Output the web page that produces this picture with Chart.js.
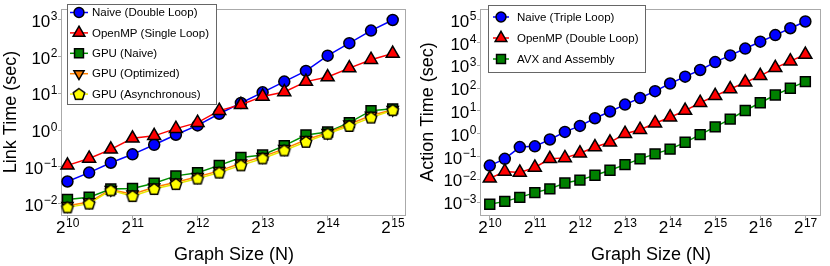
<!DOCTYPE html>
<html>
<head>
<meta charset="utf-8">
<script src="https://cdn.jsdelivr.net/npm/chart.js@4.4.0/dist/chart.umd.min.js"></script>
<style>
  body { margin: 0; background: #fff; }
  .panel { position: absolute; top: 0; width: 415px; height: 266px; }
</style>
</head>
<body>
<div class="panel" style="left:0"><canvas id="linkChart" width="415" height="266"></canvas></div>
<div class="panel" style="left:415px"><canvas id="actionChart" width="415" height="266"></canvas></div>
<script>
'use strict';

//////////////// left panel data (link time) ///////////////////

const linkSizes = [1024, 1290, 1625, 2048, 2580, 3251, 4096, 5161, 6502, 8192, 10321, 13004, 16384, 20643, 26008, 32768];
const linkNaive = [0.04, 0.07, 0.13, 0.22, 0.4, 0.75, 1.35, 2.8, 5.5, 10.7, 21, 41, 107, 234, 515, 1000];
const linkOpenMP = [0.11, 0.17, 0.3, 0.6, 0.7, 1.1, 1.6, 3.4, 4.9, 8.3, 11, 21, 28, 49, 83, 122];
const linkGpuNaive = [0.013, 0.015, 0.025, 0.026, 0.036, 0.057, 0.069, 0.11, 0.18, 0.21, 0.38, 0.74, 0.89, 1.6, 3.4, 3.8];
const linkGpuOpt = [0.0088, 0.011, 0.024, 0.018, 0.028, 0.038, 0.054, 0.078, 0.125, 0.19, 0.31, 0.55, 0.85, 1.45, 2.5, 3.6];
const linkGpuAsync = [0.0079, 0.01, 0.023, 0.016, 0.025, 0.034, 0.048, 0.07, 0.11, 0.17, 0.28, 0.48, 0.8, 1.3, 2.2, 3.5];

const linkXTicks = [1024, 2048, 4096, 8192, 16384, 32768];
const linkXLabels = ['2^10', '2^11', '2^12', '2^13', '2^14', '2^15'];
const linkYTicks = [0.01, 0.1, 1, 10, 100, 1000];
const linkYLabels = ['10^−2', '10^−1', '10^0', '10^1', '10^2', '10^3'];

//////////////// right panel data (action time) ///////////////////

const actionSizes = [1024, 1290, 1625, 2048, 2580, 3251, 4096, 5161, 6502, 8192, 10321, 13004, 16384, 20643, 26008, 32768, 41285, 52016, 65536, 82570, 104032, 131072];
const actionNaive = [0.04, 0.079, 0.26, 0.28, 0.56, 1.2, 2.2, 4.8, 9.5, 19, 37, 74, 160, 320, 630, 1400, 2750, 5500, 11000, 21500, 43000, 85000];
const actionOpenMP = [0.011, 0.022, 0.02, 0.033, 0.079, 0.087, 0.14, 0.26, 0.42, 1.0, 1.5, 2.9, 5.3, 10.4, 23, 46, 92, 180, 350, 780, 1540, 3000];
const actionAvx = [0.0008, 0.00107, 0.0016, 0.0026, 0.0038, 0.0069, 0.0092, 0.015, 0.025, 0.044, 0.079, 0.13, 0.21, 0.42, 0.91, 2.0, 4.4, 10.5, 23, 50, 100, 195];

const actionXTicks = [1024, 2048, 4096, 8192, 16384, 32768, 65536, 131072];
const actionXLabels = ['2^10', '2^11', '2^12', '2^13', '2^14', '2^15', '2^16', '2^17'];
const actionYTicks = [0.001, 0.01, 0.1, 1, 10, 100, 1000, 10000, 100000];
const actionYLabels = ['10^−3', '10^−2', '10^−1', '10^0', '10^1', '10^2', '10^3', '10^4', '10^5'];

//////////////// marker styles ///////////////////

// pentagon marker, chart.js has no such point style
function pentagon(r, fill) {
  const c = document.createElement('canvas');
  const s = Math.ceil(2 * r + 4);
  c.width = c.height = s;
  const g = c.getContext('2d');
  g.beginPath();
  for (let k = 0; k < 5; k++) {
    const a = -Math.PI / 2 + k * 2 * Math.PI / 5;
    const px = s / 2 + r * Math.cos(a);
    const py = s / 2 + 0.5 + r * Math.sin(a);
    if (k === 0) g.moveTo(px, py); else g.lineTo(px, py);
  }
  g.closePath();
  g.fillStyle = fill;
  g.fill();
  g.lineWidth = 1.5;
  g.strokeStyle = '#000';
  g.stroke();
  return c;
}

const styles = {
  blue: { line: '#0000ff', fill: '#0000ff', marker: 'circle', radius: 5.5 },
  red: { line: '#ff0000', fill: '#ff0000', marker: 'triangle', radius: 7.5 },
  green: { line: '#009000', fill: '#008000', marker: 'rect', radius: 7 },
  orange: { line: '#ff8000', fill: '#ff8000', marker: 'triangle', radius: 6.5, rotation: 180 },
  yellow: { line: '#e8e800', fill: '#ffff00', marker: pentagon(6, '#ffff00'), radius: 6 }
};

//////////////// plugins ///////////////////

const FONT = '"Liberation Sans", Arial, sans-serif';

const frame = {
  id: 'frame',
  beforeDatasetsDraw(chart) {
    const { ctx, chartArea: a } = chart;
    ctx.save();
    ctx.strokeStyle = '#aaaaaa';
    ctx.lineWidth = 1;
    ctx.strokeRect(Math.round(a.left) - 0.5, Math.round(a.top) + 0.5, Math.round(a.right - a.left), Math.round(a.bottom - a.top));
    ctx.restore();
  }
};

// tick labels like 10^3 drawn with a real raised exponent
function drawPower(ctx, label, x, baseline, align) {
  const parts = label.split('^');
  ctx.font = '17px ' + FONT;
  const bw = ctx.measureText(parts[0]).width;
  ctx.font = '12px ' + FONT;
  const ew = ctx.measureText(parts[1]).width;
  const left = align === 'center' ? x - (bw + ew) / 2 : x - bw - ew;
  ctx.font = '17px ' + FONT;
  ctx.fillText(parts[0], left, baseline);
  ctx.font = '12px ' + FONT;
  ctx.fillText(parts[1], left + bw + 0.5, baseline - 6.5);
}

const powerTicks = {
  id: 'powerTicks',
  afterDraw(chart, args, o) {
    const { ctx, chartArea: a, scales } = chart;
    ctx.save();
    ctx.fillStyle = '#000';
    ctx.textAlign = 'left';
    ctx.textBaseline = 'alphabetic';
    o.xTicks.forEach((v, i) => drawPower(ctx, o.xLabels[i], scales.x.getPixelForValue(v), a.bottom + 18, 'center'));
    o.yTicks.forEach((v, i) => drawPower(ctx, o.yLabels[i], a.left - 5, scales.y.getPixelForValue(v) + 7, 'right'));
    ctx.restore();
  }
};

const boxLegend = {
  id: 'boxLegend',
  afterDatasetsDraw(chart, args, o) {
    const ctx = chart.ctx;
    ctx.save();
    ctx.fillStyle = '#fff';
    ctx.fillRect(o.left, o.top, o.width, o.height);
    ctx.strokeStyle = '#666';
    ctx.lineWidth = 1;
    ctx.strokeRect(o.left + 0.5, o.top + 0.5, o.width, o.height);
    ctx.font = '11.5px ' + FONT;
    ctx.textBaseline = 'middle';
    chart.data.datasets.forEach((ds, i) => {
      const y = o.top + o.firstRow + i * o.rowGap;
      ctx.strokeStyle = ds.borderColor;
      ctx.lineWidth = ds.borderWidth;
      ctx.beginPath();
      ctx.moveTo(o.lineFrom, y);
      ctx.lineTo(o.lineTo, y);
      ctx.stroke();
      ctx.fillStyle = ds.pointBackgroundColor;
      ctx.strokeStyle = ds.pointBorderColor;
      ctx.lineWidth = ds.pointBorderWidth;
      Chart.helpers.drawPoint(ctx, {
        pointStyle: ds.pointStyle,
        radius: ds.pointRadius * 0.9,
        rotation: ds.pointRotation,
        borderWidth: ds.pointBorderWidth
      }, (o.lineFrom + o.lineTo) / 2, y);
      ctx.fillStyle = '#000';
      ctx.fillText(ds.label, o.textX, y + 0.5);
    });
    ctx.restore();
  }
};

//////////////// chart builder ///////////////////

const titleFont = { family: FONT, size: 18 };

function buildChart(id, cfg) {
  const n = cfg.series.length;
  return new Chart(document.getElementById(id), {
    type: 'line',
    data: {
      datasets: cfg.series.map((s, i) => ({
        label: s.label,
        data: cfg.sizes.map((size, k) => ({ x: size, y: s.data[k] })),
        borderColor: s.style.line,
        borderWidth: 1.5,
        pointStyle: s.style.marker,
        pointRadius: s.style.radius,
        pointRotation: s.style.rotation || 0,
        pointBackgroundColor: s.style.fill,
        pointBorderColor: '#000',
        pointBorderWidth: 1.5,
        tension: 0,
        clip: false,
        order: n - i
      }))
    },
    options: {
      responsive: false,
      animation: false,
      events: [],
      layout: { padding: { left: 0, top: 2, right: cfg.padRight, bottom: 0 } },
      plugins: {
        legend: { display: false },
        tooltip: { enabled: false },
        boxLegend: cfg.legend,
        powerTicks: { xTicks: cfg.xTicks, xLabels: cfg.xLabels, yTicks: cfg.yTicks, yLabels: cfg.yLabels }
      },
      scales: {
        x: {
          type: 'logarithmic',
          min: cfg.xMin,
          max: cfg.xMax,
          afterBuildTicks: (s) => { s.ticks = cfg.xTicks.map(v => ({ value: v })); },
          afterFit: (s) => { s.height = 51; },
          ticks: { display: false },
          grid: { drawOnChartArea: false, tickLength: 4, tickColor: '#aaaaaa' },
          border: { display: false },
          title: { display: true, text: 'Graph Size (N)', font: titleFont, color: '#000', padding: { top: 0, bottom: 0 } }
        },
        y: {
          type: 'logarithmic',
          min: cfg.yMin,
          max: cfg.yMax,
          afterBuildTicks: (s) => { s.ticks = cfg.yTicks.map(v => ({ value: v })); },
          afterFit: (s) => { s.width = cfg.yWidth; },
          ticks: { display: false },
          grid: { drawOnChartArea: false, tickLength: 4, tickColor: '#aaaaaa' },
          border: { display: false },
          title: { display: true, text: cfg.yTitle, font: titleFont, color: '#000', padding: { top: cfg.yTitlePad, bottom: 0 } }
        }
      }
    },
    plugins: [frame, boxLegend, powerTicks]
  });
}

buildChart('linkChart', {
  sizes: linkSizes,
  series: [
    { label: 'Naive (Double Loop)', data: linkNaive, style: styles.blue },
    { label: 'OpenMP (Single Loop)', data: linkOpenMP, style: styles.red },
    { label: 'GPU (Naive)', data: linkGpuNaive, style: styles.green },
    { label: 'GPU (Optimized)', data: linkGpuOpt, style: styles.orange },
    { label: 'GPU (Asynchronous)', data: linkGpuAsync, style: styles.yellow }
  ],
  xTicks: linkXTicks, xLabels: linkXLabels,
  yTicks: linkYTicks, yLabels: linkYLabels,
  xMin: 966, xMax: 37760, yMin: 0.0049, yMax: 1990,
  yTitle: 'Link Time (sec)', yTitlePad: 0,
  yWidth: 62, padRight: 6,
  legend: { left: 67, top: 4, width: 149, height: 100, firstRow: 8.5, rowGap: 20.4, lineFrom: 70, lineTo: 88, textX: 92 }
});

buildChart('actionChart', {
  sizes: actionSizes,
  series: [
    { label: 'Naive (Triple Loop)', data: actionNaive, style: styles.blue },
    { label: 'OpenMP (Double Loop)', data: actionOpenMP, style: styles.red },
    { label: 'AVX and Assembly', data: actionAvx, style: styles.green }
  ],
  xTicks: actionXTicks, xLabels: actionXLabels,
  yTicks: actionYTicks, yLabels: actionYLabels,
  xMin: 895, xMax: 166700, yMin: 0.00027, yMax: 300000,
  yTitle: 'Action Time (sec)', yTitlePad: 2,
  yWidth: 66, padRight: 1,
  legend: { left: 73, top: 5, width: 157, height: 67, firstRow: 12, rowGap: 21, lineFrom: 78, lineTo: 94, textX: 102 }
});
</script>
</body>
</html>
